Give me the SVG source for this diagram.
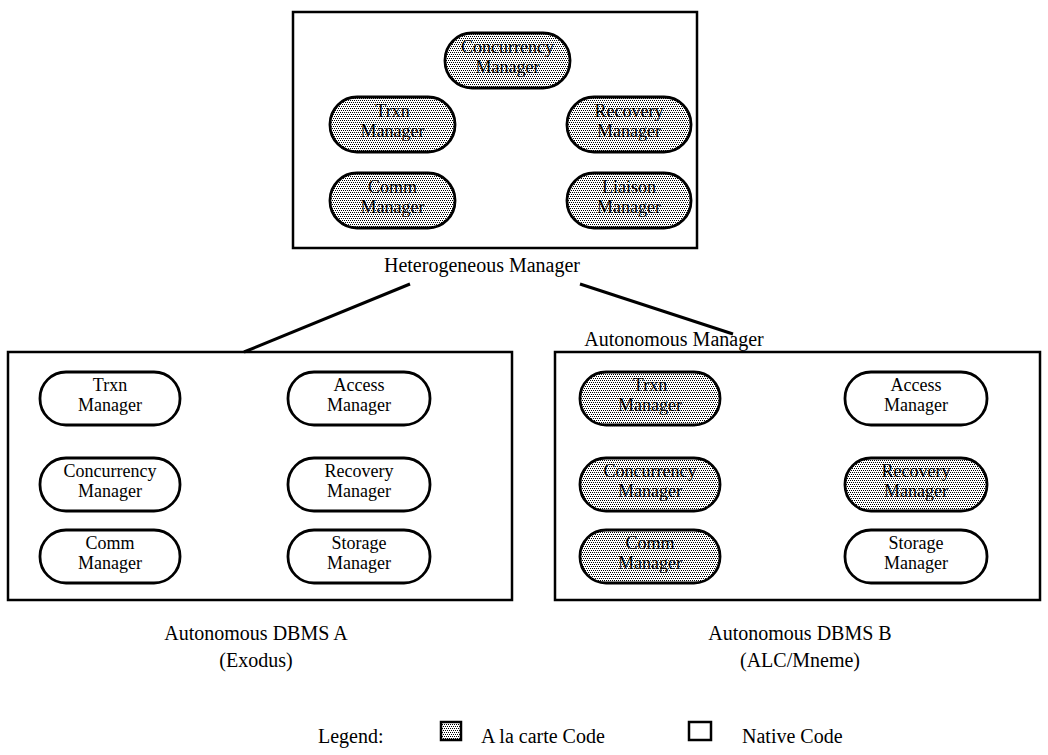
<svg xmlns="http://www.w3.org/2000/svg" width="1048" height="755" viewBox="0 0 1048 755">
  <style>
    .box { fill: none; stroke: #000; stroke-width: 2.5; }
    .pill { stroke: #000; stroke-width: 2.8; }
    .shaded { fill: url(#stipple); }
    .native { fill: #fff; }
    .lbl { font-family: "Liberation Serif", "Times New Roman", serif; font-size: 18px; fill: #000; text-anchor: middle; }
    .cap { font-family: "Liberation Serif", "Times New Roman", serif; font-size: 20px; fill: #000; text-anchor: middle; }
    .leg { font-family: "Liberation Serif", "Times New Roman", serif; font-size: 20px; fill: #000; }
    .link { stroke: #000; stroke-width: 3; fill: none; }
  </style>
  <defs>
    <!-- dotted screen used for "a la carte" components -->
    <pattern id="stipple" width="4" height="4" patternUnits="userSpaceOnUse">
      <rect width="4" height="4" fill="#fff"/>
      <rect x="0" y="0" width="1" height="1" fill="#000"/>
      <rect x="2" y="0" width="1" height="1" fill="#000"/>
      <rect x="1" y="2" width="1" height="1" fill="#000"/>
      <rect x="3" y="2" width="1" height="1" fill="#000"/>
    </pattern>
  </defs>
  <rect width="1048" height="755" fill="#fff"/>

  <!-- Heterogeneous manager -->
  <g id="hetero">
    <rect class="box" x="293" y="12" width="404" height="236"/>
    <text class="cap" x="482" y="272">Heterogeneous Manager</text>
  </g>
  <g id="h-concurrency">
    <rect class="pill shaded" x="445" y="33" width="125" height="55" rx="27" ry="27"/>
    <text class="lbl" x="507.5" y="53">Concurrency</text>
    <text class="lbl" x="507.5" y="73">Manager</text>
  </g>
  <g id="h-trxn">
    <rect class="pill shaded" x="330" y="97" width="125" height="55" rx="27" ry="27"/>
    <text class="lbl" x="392.5" y="117">Trxn</text>
    <text class="lbl" x="392.5" y="137">Manager</text>
  </g>
  <g id="h-recovery">
    <rect class="pill shaded" x="567" y="97" width="124" height="55" rx="27" ry="27"/>
    <text class="lbl" x="629" y="117">Recovery</text>
    <text class="lbl" x="629" y="137">Manager</text>
  </g>
  <g id="h-comm">
    <rect class="pill shaded" x="330" y="173" width="125" height="55" rx="27" ry="27"/>
    <text class="lbl" x="392.5" y="193">Comm</text>
    <text class="lbl" x="392.5" y="213">Manager</text>
  </g>
  <g id="h-liaison">
    <rect class="pill shaded" x="567" y="173" width="124" height="55" rx="27" ry="27"/>
    <text class="lbl" x="629" y="193">Liaison</text>
    <text class="lbl" x="629" y="213">Manager</text>
  </g>

  <!-- links from the heterogeneous manager to each autonomous DBMS -->
  <g id="connectors">
    <line class="link" x1="410" y1="284" x2="244" y2="352"/>
    <line class="link" x1="580" y1="284" x2="733" y2="334"/>
  </g>

  <!-- Autonomous DBMS A (Exodus) -->
  <g id="dbms-a">
    <rect class="box" x="8" y="352" width="504" height="248"/>
    <text class="cap" x="256" y="640">Autonomous DBMS A</text>
    <text class="cap" x="256" y="667">(Exodus)</text>
  </g>
  <g id="a-trxn">
    <rect class="pill native" x="40" y="372" width="140" height="53" rx="26" ry="26"/>
    <text class="lbl" x="110" y="391">Trxn</text>
    <text class="lbl" x="110" y="411">Manager</text>
  </g>
  <g id="a-access">
    <rect class="pill native" x="288" y="372" width="142" height="53" rx="26" ry="26"/>
    <text class="lbl" x="359" y="391">Access</text>
    <text class="lbl" x="359" y="411">Manager</text>
  </g>
  <g id="a-concurrency">
    <rect class="pill native" x="40" y="458" width="140" height="53" rx="26" ry="26"/>
    <text class="lbl" x="110" y="477">Concurrency</text>
    <text class="lbl" x="110" y="497">Manager</text>
  </g>
  <g id="a-recovery">
    <rect class="pill native" x="288" y="458" width="142" height="53" rx="26" ry="26"/>
    <text class="lbl" x="359" y="477">Recovery</text>
    <text class="lbl" x="359" y="497">Manager</text>
  </g>
  <g id="a-comm">
    <rect class="pill native" x="40" y="530" width="140" height="53" rx="26" ry="26"/>
    <text class="lbl" x="110" y="549">Comm</text>
    <text class="lbl" x="110" y="569">Manager</text>
  </g>
  <g id="a-storage">
    <rect class="pill native" x="288" y="530" width="142" height="53" rx="26" ry="26"/>
    <text class="lbl" x="359" y="549">Storage</text>
    <text class="lbl" x="359" y="569">Manager</text>
  </g>

  <!-- Autonomous DBMS B (ALC/Mneme) -->
  <g id="dbms-b">
    <rect class="box" x="555" y="352" width="485" height="248"/>
    <text class="cap" x="674" y="346">Autonomous Manager</text>
    <text class="cap" x="800" y="640">Autonomous DBMS B</text>
    <text class="cap" x="800" y="667">(ALC/Mneme)</text>
  </g>
  <g id="b-trxn">
    <rect class="pill shaded" x="580" y="372" width="140" height="53" rx="26" ry="26"/>
    <text class="lbl" x="650" y="391">Trxn</text>
    <text class="lbl" x="650" y="411">Manager</text>
  </g>
  <g id="b-access">
    <rect class="pill native" x="845" y="372" width="142" height="53" rx="26" ry="26"/>
    <text class="lbl" x="916" y="391">Access</text>
    <text class="lbl" x="916" y="411">Manager</text>
  </g>
  <g id="b-concurrency">
    <rect class="pill shaded" x="580" y="458" width="140" height="53" rx="26" ry="26"/>
    <text class="lbl" x="650" y="477">Concurrency</text>
    <text class="lbl" x="650" y="497">Manager</text>
  </g>
  <g id="b-recovery">
    <rect class="pill shaded" x="845" y="458" width="142" height="53" rx="26" ry="26"/>
    <text class="lbl" x="916" y="477">Recovery</text>
    <text class="lbl" x="916" y="497">Manager</text>
  </g>
  <g id="b-comm">
    <rect class="pill shaded" x="580" y="530" width="140" height="53" rx="26" ry="26"/>
    <text class="lbl" x="650" y="549">Comm</text>
    <text class="lbl" x="650" y="569">Manager</text>
  </g>
  <g id="b-storage">
    <rect class="pill native" x="845" y="530" width="142" height="53" rx="26" ry="26"/>
    <text class="lbl" x="916" y="549">Storage</text>
    <text class="lbl" x="916" y="569">Manager</text>
  </g>

  <!-- legend -->
  <g id="legend">
    <text class="leg" x="318" y="743">Legend:</text>
    <rect x="441" y="722" width="20" height="18" fill="url(#stipple)" stroke="#000" stroke-width="2.5"/>
    <text class="leg" x="481" y="743">A la carte Code</text>
    <rect x="689" y="722" width="22" height="18" fill="#fff" stroke="#000" stroke-width="2.5"/>
    <text class="leg" x="742" y="743">Native Code</text>
  </g>
</svg>
